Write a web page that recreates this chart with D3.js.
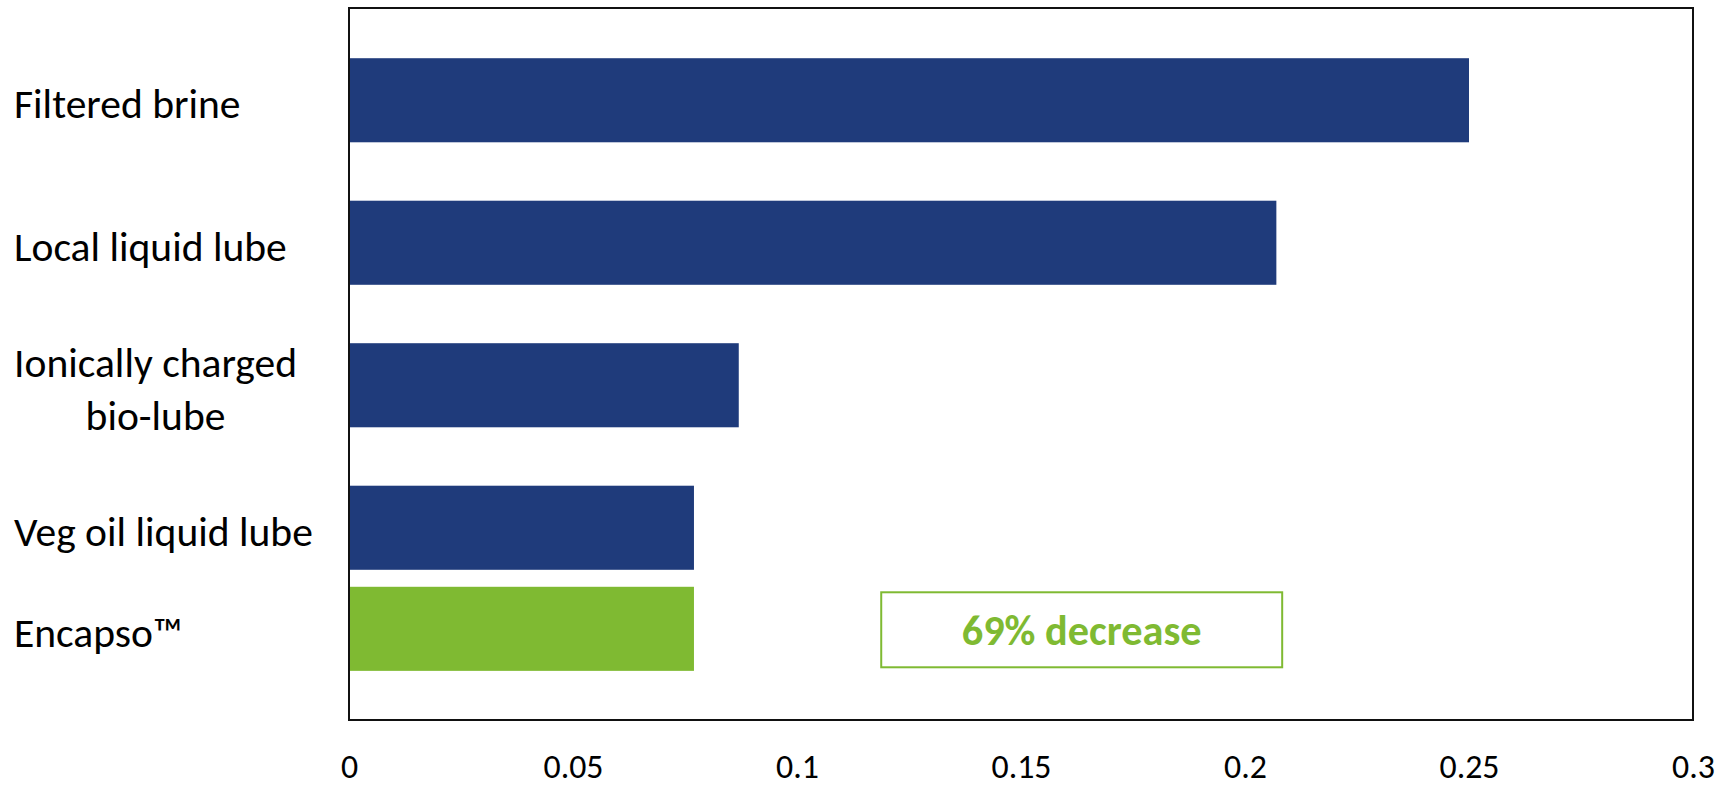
<!DOCTYPE html>
<html>
<head>
<meta charset="utf-8">
<script src="https://cdn.jsdelivr.net/npm/d3@7"></script>
<style>
  html, body { margin: 0; padding: 0; background: #fff; }
  svg { display: block; }
  text { font-family: Calibri, Carlito, Lato, sans-serif; }
</style>
</head>
<body>
<svg id="chart" width="1732" height="786"></svg>
<script>
// ---- data ----
const categories = ["Filtered brine", "Local liquid lube", "Ionically charged\nbio-lube", "Veg oil liquid lube"];
const values = [0.25, 0.207, 0.087, 0.077];
const highlightCategory = "Encapso™";
const highlightValue = 0.077;
const xTicks = [0, 0.05, 0.1, 0.15, 0.2, 0.25, 0.3];
const xDomain = [0, 0.3];
const annotationText = "69% decrease";
const annotationRange = [0.1188, 0.2083];

// ---- layout ----
const plot = { left: 349, top: 8, right: 1693, bottom: 720 };
const navy = "#1f3b7b";
const green = "#7fba32";

const svg = d3.select("#chart");

// font calibration: size a font so a sample string has the reference width
function fitSize(sample, targetW, weight) {
  const t = svg.append("text").attr("font-size", 100)
    .attr("font-weight", weight || "normal").text(sample);
  const w = t.node().getComputedTextLength();
  t.remove();
  return 100 * targetW / w;
}
const labelFont = fitSize("Veg oil liquid lube", 299);
const tickFont = fitSize("0.25", 60);
const annFont = fitSize("69% decrease", 240, "bold");

const x = d3.scaleLinear().domain(xDomain).range([plot.left, plot.right]);
const step = 142.5;
const yStart = plot.top + 21;
const y = d3.scaleBand()
  .domain(categories)
  .range([yStart, yStart + step * categories.length])
  .paddingInner(0.41)
  .paddingOuter(0.205);
const bw = y.bandwidth();
const lastCat = categories[categories.length - 1];
const encapsoY = y(lastCat) + bw + 17;

// bars
svg.append("g").selectAll("rect")
  .data(categories.map((c, i) => ({ c, v: values[i] })))
  .join("rect")
  .attr("x", x(0))
  .attr("y", d => y(d.c))
  .attr("width", d => x(d.v) - x(0))
  .attr("height", bw)
  .attr("fill", navy);

svg.append("rect")
  .attr("x", x(0))
  .attr("y", encapsoY)
  .attr("width", x(highlightValue) - x(0))
  .attr("height", bw)
  .attr("fill", green);

// frame
svg.append("rect")
  .attr("x", plot.left).attr("y", plot.top)
  .attr("width", plot.right - plot.left).attr("height", plot.bottom - plot.top)
  .attr("fill", "none").attr("stroke", "#111").attr("stroke-width", 2);

// x axis labels
const xAxis = d3.axisBottom(x).tickValues(xTicks).tickSize(0).tickPadding(0)
  .tickFormat(d => String(d));
const gx = svg.append("g").attr("transform", `translate(0,${plot.bottom})`).call(xAxis);
gx.select(".domain").remove();
gx.selectAll("text")
  .attr("y", 58).attr("dy", 0)
  .attr("font-size", tickFont)
  .attr("fill", "#000")
  .style("font-family", "Calibri, Carlito, Lato, sans-serif");

// category labels
const labelX = 14;
function addLabel(text, cy) {
  const lines = text.split("\n");
  const g = svg.append("g");
  const lh = 53.4;
  const base = cy + 18 - (lines.length - 1) * lh / 2;
  const ts = lines.map((ln, i) => g.append("text")
    .attr("x", labelX).attr("y", base + i * lh)
    .attr("font-size", labelFont).attr("fill", "#000").text(ln));
  if (lines.length > 1) {
    const widths = ts.map(t => t.node().getComputedTextLength());
    const maxW = d3.max(widths);
    ts.forEach(t => t.attr("x", labelX + maxW / 2).attr("text-anchor", "middle"));
  }
}
categories.forEach(c => addLabel(c, y(c) + bw / 2));
addLabel(highlightCategory, encapsoY + bw / 2);

// annotation box
const boxTop = encapsoY + 5.5;
const boxH = 75;
svg.append("rect")
  .attr("x", x(annotationRange[0])).attr("y", boxTop)
  .attr("width", x(annotationRange[1]) - x(annotationRange[0])).attr("height", boxH)
  .attr("fill", "#fff").attr("stroke", green).attr("stroke-width", 2);
svg.append("text")
  .attr("x", (x(annotationRange[0]) + x(annotationRange[1])) / 2)
  .attr("y", boxTop + boxH / 2)
  .attr("dy", "0.35em")
  .attr("text-anchor", "middle")
  .attr("font-size", annFont).attr("font-weight", "bold")
  .attr("fill", green)
  .text(annotationText);
</script>
</body>
</html>
